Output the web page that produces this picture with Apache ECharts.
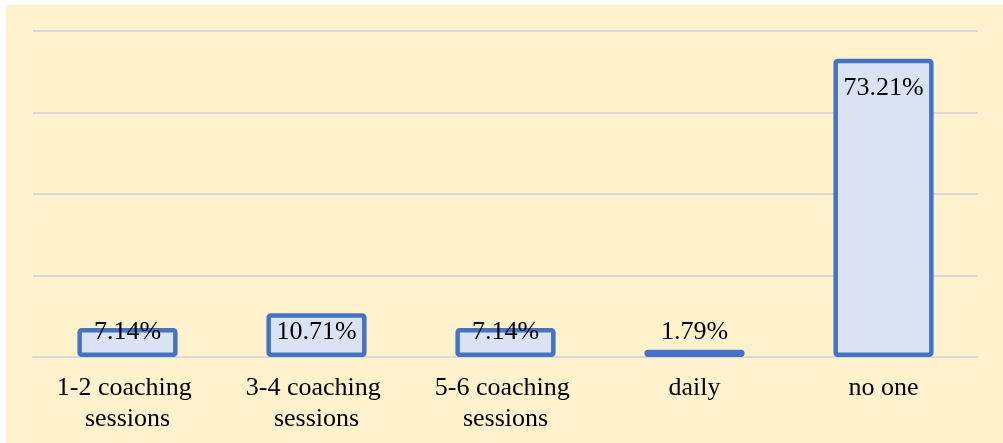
<!DOCTYPE html>
<html>
<head>
<meta charset="UTF-8">
<title>coaching sessions</title>
<script src="https://cdn.jsdelivr.net/npm/echarts@6/dist/echarts.min.js"></script>
<style>
    html, body { margin: 0; padding: 0; background: #ffffff; }
    #chart1 { position: absolute; left: 6px; top: 5px; width: 997px; height: 438px; }
</style>
</head>
<body>
<div id="chart1"></div>
<script type="text/javascript">
var chart1 = echarts.init(document.getElementById('chart1'));

// categories and values (percent)
var categories = ['1-2 coaching sessions', '3-4 coaching sessions', '5-6 coaching sessions', 'daily', 'no one'];
var values = [7.14, 10.71, 7.14, 1.79, 73.21];

var serif = "'Times New Roman', 'Liberation Serif', serif";

// tall bars get the label inside the top, short ones sit near the axis
var barData = values.map(function (v) {
    var label = v > 20
        ? { position: 'insideTop', distance: 17 }
        : { position: 'insideBottom', distance: 12 };
    return { value: v, label: label };
});

var option = {
    backgroundColor: '#FFF2CC',
    animation: false,
    grid: {
        left: 27,
        right: 25,
        top: 26,
        bottom: 86
    },
    xAxis: {
        type: 'category',
        data: categories,
        axisTick: { show: false },
        axisLine: { show: true, lineStyle: { color: '#D9D9D9', width: 2 } },
        axisLabel: {
            color: '#000000',
            fontFamily: serif,
            fontSize: 26,
            lineHeight: 31,
            margin: 16,
            width: 175,
            overflow: 'break',
            interval: 0
        }
    },
    yAxis: {
        type: 'value',
        min: 0,
        max: 80,
        interval: 20,
        axisLabel: { show: false },
        axisLine: { show: false },
        axisTick: { show: false },
        splitLine: { lineStyle: { color: '#D9D9D9', width: 2 } }
    },
    series: [{
        type: 'bar',
        barWidth: '53%',
        data: barData,
        itemStyle: {
            color: '#DAE3F3',
            borderColor: '#4472C4',
            borderWidth: 4.5,
            borderRadius: 2
        },
        label: {
            show: true,
            formatter: function (p) { return p.value.toFixed(2) + '%'; },
            color: '#000000',
            fontFamily: serif,
            fontSize: 26,
            lineHeight: 26
        }
    }]
};

chart1.setOption(option);
</script>
</body>
</html>
